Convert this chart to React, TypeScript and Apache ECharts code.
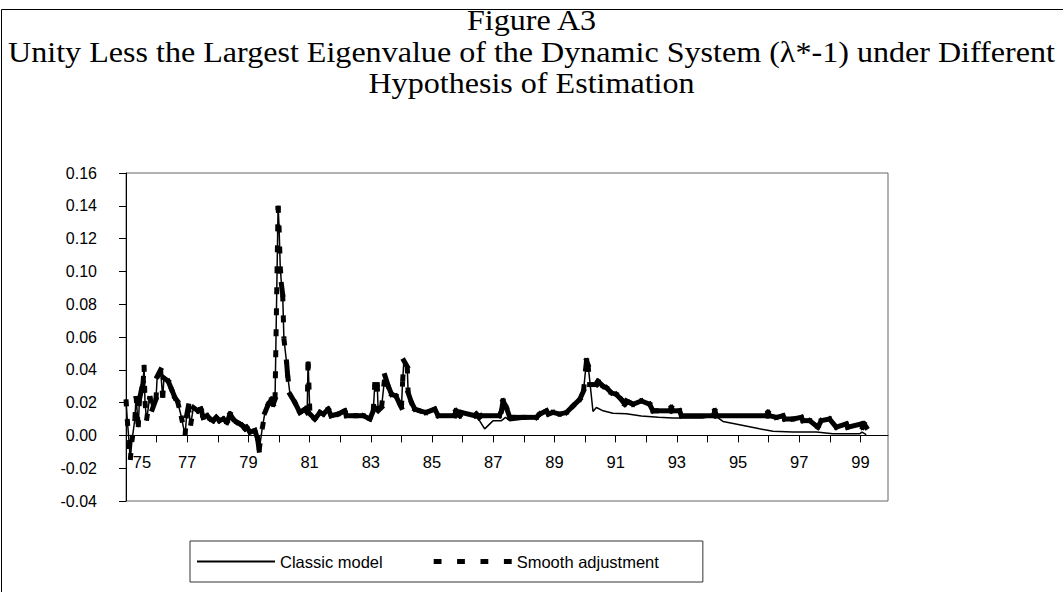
import React, { useEffect, useRef } from "react";
import * as echarts from "echarts";

// Title lines
const titleLines = [
  "Figure A3",
  "Unity Less the Largest Eigenvalue of the Dynamic System (\u03bb*-1) under Different",
  "Hypothesis of Estimation",
];

// Y-axis ticks
const yMin = -0.04;
const yMax = 0.16;
const yStep = 0.02;

// X-axis (years, 19xx)
const xMin = 75;
const xMax = 99.9;

// Common path of both estimates (1975 - mid 1986)
const sharedYears = [
  75.0, 75.04, 75.1, 75.14, 75.19, 75.29, 75.33, 75.4, 75.44, 75.51, 75.56, 75.59, 75.62, 75.67,
  75.78, 75.86, 75.98, 76.02, 76.13, 76.2, 76.24, 76.38, 76.49, 76.6, 76.68, 76.8, 76.93, 76.98,
  77.04, 77.11, 77.2, 77.35, 77.45, 77.52, 77.65, 77.75, 77.85, 77.95, 78.05, 78.18, 78.3, 78.4,
  78.5, 78.62, 78.72, 78.8, 78.89, 78.94, 79.05, 79.21, 79.3, 79.35, 79.45, 79.54, 79.65, 79.76,
  79.81, 79.87, 79.97, 80.0, 80.04, 80.08, 80.12, 80.16, 80.25, 80.28, 80.36, 80.52, 80.68, 80.85,
  80.92, 80.95, 81.01, 81.17, 81.34, 81.45, 81.61, 81.7, 81.93, 82.15, 82.2, 82.5, 82.75, 82.97,
  83.08, 83.13, 83.21, 83.24, 83.35, 83.46, 83.57, 83.68, 83.82, 83.95, 84.0, 84.04, 84.08, 84.19,
  84.22, 84.33, 84.44, 84.6, 84.8, 85.09, 85.2, 85.74, 85.78, 85.91, 85.95, 86.4,
];
const sharedValues = [
  0.022, 0.01, -0.004, -0.015, -0.004, 0.01, 0.024, 0.005, 0.022, 0.028, 0.032, 0.043, 0.021, 0.009,
  0.024, 0.016, 0.022, 0.036, 0.04, 0.023, 0.035, 0.033, 0.028, 0.023, 0.021, 0.012, 0.0, 0.012,
  0.018, 0.006, 0.017, 0.015, 0.016, 0.011, 0.012, 0.01, 0.009, 0.011, 0.009, 0.01, 0.008, 0.013,
  0.01, 0.008, 0.007, 0.006, 0.004, 0.005, 0.002, 0.003, -0.002, -0.009, 0.004, 0.014, 0.019, 0.022,
  0.019, 0.022, 0.14, 0.128, 0.103, 0.092, 0.086, 0.059, 0.044, 0.037, 0.025, 0.02, 0.014, 0.016,
  0.014, 0.045, 0.013, 0.01, 0.014, 0.013, 0.016, 0.012, 0.013, 0.015, 0.012, 0.012, 0.012, 0.01,
  0.015, 0.031, 0.031, 0.015, 0.017, 0.0365, 0.03, 0.025, 0.024, 0.019, 0.017, 0.033, 0.0456, 0.042,
  0.026, 0.02, 0.016, 0.015, 0.014, 0.016, 0.012, 0.012, 0.015, 0.012, 0.014, 0.012, 0.012,
];

// Smooth adjustment after mid 1986
const smoothTailYears = [
  86.45, 86.54, 86.6, 87.2, 87.27, 87.32, 87.43, 87.54, 87.65, 88.0, 88.41, 88.52, 88.74, 88.8,
  88.95, 89.17, 89.39, 89.61, 89.83, 89.95, 90.02, 90.05, 90.1, 90.15, 90.37, 90.42, 90.59, 90.7,
  90.86, 91.02, 91.18, 91.3, 91.35, 91.46, 91.57, 91.84, 92.11, 92.22, 92.33, 92.77, 92.82, 92.86,
  93.09, 93.15, 94.2, 94.24, 94.3, 95.92, 95.98, 96.02, 96.25, 96.47, 96.52, 96.79, 97.07, 97.12,
  97.34, 97.61, 97.72, 97.99, 98.21, 98.54, 98.58, 99.03, 99.07, 99.12, 99.19,
];
const smoothTailValues = [
  0.013, 0.011, 0.012, 0.012, 0.015, 0.021, 0.017, 0.011, 0.011, 0.011, 0.011, 0.013, 0.015, 0.013,
  0.014, 0.013, 0.014, 0.018, 0.022, 0.027, 0.0405, 0.0456, 0.043, 0.031, 0.031, 0.033, 0.03, 0.029,
  0.026, 0.025, 0.022, 0.019, 0.021, 0.02, 0.019, 0.021, 0.019, 0.015, 0.015, 0.015, 0.017, 0.015,
  0.015, 0.012, 0.012, 0.015, 0.012, 0.012, 0.014, 0.012, 0.011, 0.012, 0.01, 0.01, 0.011, 0.009,
  0.009, 0.005, 0.009, 0.01, 0.005, 0.007, 0.005, 0.007, 0.005, 0.007, 0.005,
];

// Classic model after mid 1986
const classicTailYears = [
  86.45, 86.72, 87.0, 87.27, 87.4, 87.54, 88.0, 88.41, 88.52, 88.74, 88.8, 88.95, 89.17, 89.39,
  89.61, 89.83, 89.95, 90.02, 90.05, 90.1, 90.26, 90.37, 90.59, 90.91, 91.35, 91.84, 92.4, 92.86,
  93.84, 94.24, 94.51, 95.05, 95.7, 96.14, 96.79, 97.56, 98.1, 98.97, 99.05, 99.19,
];
const classicTailValues = [
  0.012, 0.004, 0.009, 0.009, 0.011, 0.009, 0.01, 0.011, 0.013, 0.015, 0.013, 0.014, 0.013, 0.014,
  0.018, 0.022, 0.027, 0.0405, 0.0456, 0.043, 0.0146, 0.017, 0.015, 0.0135, 0.0132, 0.0118, 0.011,
  0.0106, 0.0106, 0.012, 0.0085, 0.0065, 0.004, 0.0025, 0.002, 0.002, 0.001, 0.001, 0.002, 0.0005,
];

const seriesNames = ["Classic model", "Smooth adjustment"];

const SANS = "'Liberation Sans', Arial, sans-serif";
const SERIF = "'Liberation Serif', 'Times New Roman', serif";

const GRID_TOP = 173;
const GRID_BOTTOM = 91;
const CHART_W = 1063;
const CHART_H = 592;
const TITLE_Y = [20, 52, 83];

export default function App() {
  const ref = useRef<HTMLDivElement>(null);

  useEffect(() => {
    if (!ref.current) return;
    const chart = echarts.init(ref.current, undefined, { renderer: "svg" });

    const classicData = [
      ...sharedYears.map((x, i) => [x, sharedValues[i]]),
      ...classicTailYears.map((x, i) => [x, classicTailValues[i]]),
    ];
    const smoothData = [
      ...sharedYears.map((x, i) => [x, sharedValues[i]]),
      ...smoothTailYears.map((x, i) => [x, smoothTailValues[i]]),
    ];

    // place the x axis on the zero line of the value axis
    const plotH = CHART_H - GRID_TOP - GRID_BOTTOM;
    const zeroOffset = -(plotH * (0 - yMin)) / (yMax - yMin);

    const titleTexts = titleLines.map((t, i) => ({
      type: "text",
      x: CHART_W / 2,
      y: TITLE_Y[i],
      scaleX: 1.07,
      silent: true,
      style: {
        text: t,
        fontFamily: SERIF,
        fontSize: 30,
        fill: "#000",
        align: "center",
        verticalAlign: "middle",
      },
    }));

    const option: any = {
      animation: false,
      backgroundColor: "#fff",
      graphic: [
        {
          type: "rect",
          shape: { x: 1.5, y: 9.5, width: 1100, height: 700 },
          style: { fill: "none", stroke: "#000", lineWidth: 1 },
          silent: true,
          z: -1,
        },
        ...titleTexts,
      ],
      grid: {
        left: 126,
        right: 175,
        top: GRID_TOP,
        bottom: GRID_BOTTOM,
        show: true,
        borderColor: "#666",
        borderWidth: 1,
      },
      legend: {
        left: 190,
        top: 541,
        padding: [12, 44, 12, 7],
        itemGap: 51,
        itemWidth: 78,
        itemHeight: 5,
        borderColor: "#333",
        borderWidth: 1,
        borderRadius: 0,
        selectedMode: false,
        textStyle: { fontFamily: SANS, fontSize: 16.5, color: "#000" },
        data: [
          { name: seriesNames[0], icon: "path://M0,0H76V2H0Z" },
          {
            name: seriesNames[1],
            icon: "path://M0,0H8V5H0Z M24,0H32V5H24Z M48,0H56V5H48Z M72,0H80V5H72Z",
          },
        ],
      },
      xAxis: {
        type: "value",
        min: xMin,
        max: xMax,
        interval: 1,
        position: "bottom",
        offset: zeroOffset,
        axisLine: { onZero: false, lineStyle: { color: "#000", width: 1 } },
        axisTick: { show: true, inside: false, length: 7, lineStyle: { color: "#000" } },
        splitLine: { show: false },
        axisLabel: {
          margin: 18,
          fontFamily: SANS,
          fontSize: 16.5,
          color: "#000",
          showMaxLabel: false,
          formatter: (v: number) => {
            if (Math.abs(v - Math.round(v)) > 1e-6) return "";
            const r = Math.round(v);
            if (r % 2 === 0) return "";
            if (r === xMin) return "{first|" + r + "}";
            return String(r);
          },
          rich: {
            first: { fontFamily: SANS, fontSize: 16.5, color: "#000", padding: [0, 0, 0, 32] },
          },
        },
      },
      yAxis: {
        type: "value",
        min: yMin,
        max: yMax,
        interval: yStep,
        axisLine: { show: true, onZero: false, lineStyle: { color: "#000", width: 1 } },
        axisTick: { show: true, inside: false, length: 7, lineStyle: { color: "#000" } },
        splitLine: { show: false },
        axisLabel: {
          margin: 29,
          fontFamily: SANS,
          fontSize: 16,
          color: "#000",
          formatter: (v: number) => v.toFixed(2),
        },
      },
      series: [
        {
          name: seriesNames[1],
          type: "custom",
          z: 2,
          itemStyle: { color: "#000" },
          encode: { x: 0, y: 1 },
          data: smoothData,
          renderItem: (params: any, api: any) => {
            const i = params.dataIndex;
            if (i === 0) return null;
            const prev = smoothData[i - 1];
            const a = api.coord([prev[0], prev[1]]);
            const b = api.coord([api.value(0), api.value(1)]);
            const dx = b[0] - a[0];
            const dy = b[1] - a[1];
            const steep = Math.abs(dy) > 2 * Math.abs(dx) && Math.hypot(dx, dy) > 12;
            return {
              type: "line",
              shape: { x1: a[0], y1: a[1], x2: b[0], y2: b[1] },
              style: {
                stroke: "#000",
                lineWidth: 5,
                lineDash: steep ? [7, 14] : null,
                lineCap: steep ? "butt" : "square",
              },
            };
          },
        },
        {
          name: seriesNames[0],
          type: "line",
          z: 3,
          showSymbol: false,
          symbol: "none",
          itemStyle: { color: "#000" },
          lineStyle: { color: "#000", width: 1.5 },
          data: classicData,
        },
      ],
    };

    chart.setOption(option);
    return () => chart.dispose();
  }, []);

  return (
    <div
      ref={ref}
      style={{ position: "fixed", left: 0, top: 0, width: CHART_W, height: CHART_H, background: "#fff" }}
    />
  );
}
